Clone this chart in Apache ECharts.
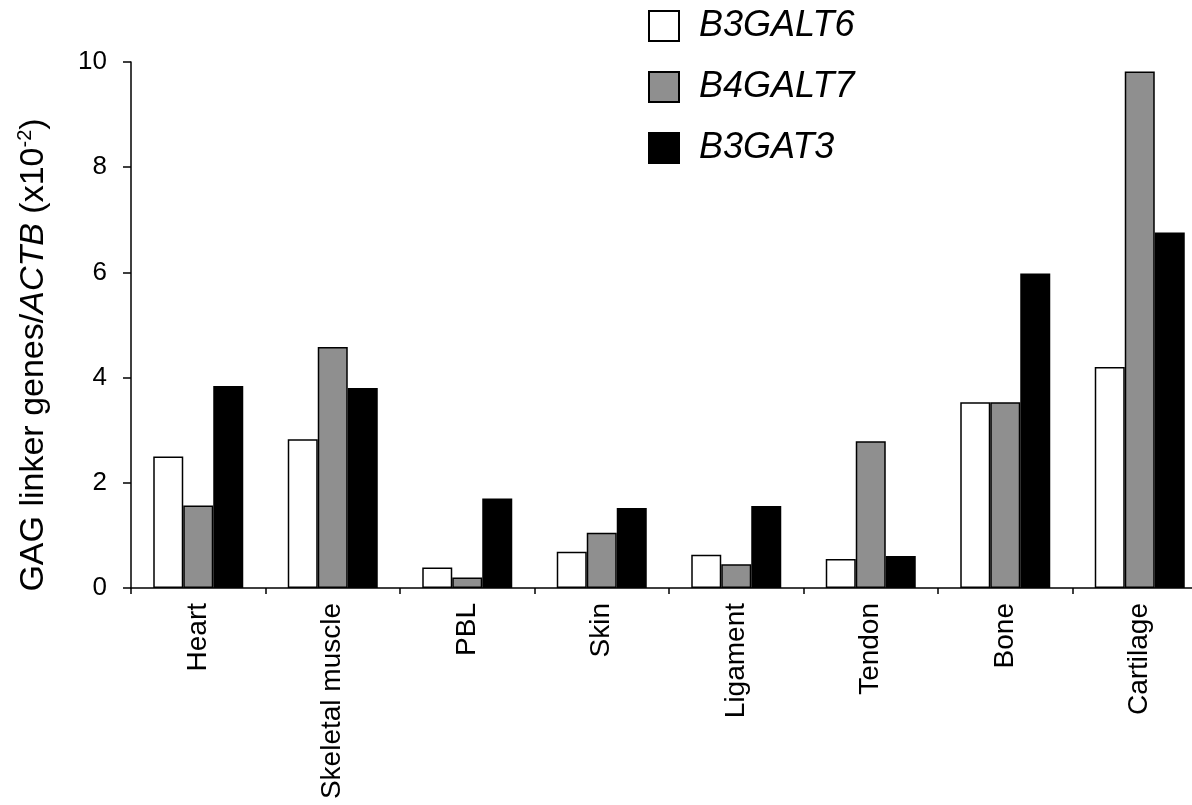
<!DOCTYPE html>
<html>
<head>
<meta charset="utf-8">
<script src="https://cdn.jsdelivr.net/npm/echarts@6/dist/echarts.min.js"></script>
<style>html,body{margin:0;padding:0;background:#fff;overflow:hidden}#c{width:1210px;height:805px}</style>
</head>
<body>
<div id="c"></div>
<script>
const categories = ['Heart','Skeletal muscle','PBL','Skin','Ligament','Tendon','Bone','Cartilage'];
const seriesNames = ['B3GALT6','B4GALT7','B3GAT3'];
const b3galt6 = [2.50, 2.83, 0.39, 0.69, 0.63, 0.55, 3.53, 4.20];
const b4galt7 = [1.57, 4.58, 0.20, 1.05, 0.45, 2.79, 3.53, 9.82];
const b3gat3  = [3.84, 3.80, 1.70, 1.52, 1.56, 0.61, 5.98, 6.76];
const yTicks = [0, 2, 4, 6, 8, 10];

const FONT = '"Liberation Sans", Arial, Helvetica, sans-serif';
const chart = echarts.init(document.getElementById('c'));
const fills = ['#ffffff', '#8f8f8f', '#000000'];
const dataSets = [b3galt6, b4galt7, b3gat3];

chart.setOption({
  animation: false,
  backgroundColor: '#fff',
  grid: { left: 131, top: 62, height: 526, width: 1076, containLabel: false },
  legend: {
    orient: 'vertical',
    left: 643, top: 3,
    itemWidth: 30, itemHeight: 30, itemGap: 25,
    icon: 'rect',
    textStyle: { fontFamily: FONT, fontSize: 36, fontStyle: 'italic', color: '#000', padding: [0, 0, 0, 15], lineHeight: 30, height: 30 },
    data: seriesNames
  },
  xAxis: {
    type: 'category',
    data: categories,
    axisLine: { lineStyle: { color: '#000', width: 1.5 } },
    axisTick: { show: true, length: 6, lineStyle: { color: '#000', width: 1.5 } },
    axisLabel: { rotate: 90, margin: 15, fontFamily: FONT, fontSize: 28, color: '#000' }
  },
  yAxis: {
    type: 'value',
    min: 0, max: 10, interval: 2,
    splitLine: { show: false },
    axisLine: { show: true, lineStyle: { color: '#000', width: 1.5 } },
    axisTick: { show: true, length: 8, lineStyle: { color: '#000', width: 1.5 } },
    axisLabel: { margin: 24, fontFamily: FONT, fontSize: 26, color: '#000',
      formatter: v => yTicks.includes(v) ? String(v) : '' },
    name: '{a|GAG linker genes/}{i|ACTB}{a| (x10}{s|-2}{a|)}',
    nameLocation: 'middle',
    nameGap: 80,
    nameRotate: 90,
    nameTextStyle: {
      padding: [0, 60, 0, 0],
      rich: {
        a: { fontFamily: FONT, fontSize: 34, color: '#000', lineHeight: 36, verticalAlign: 'bottom' },
        i: { fontFamily: FONT, fontSize: 34, fontStyle: 'italic', color: '#000', lineHeight: 36, verticalAlign: 'bottom' },
        s: { fontFamily: FONT, fontSize: 20, color: '#000', lineHeight: 36, verticalAlign: 'top' }
      }
    }
  },
  series: seriesNames.map((n, i) => ({
    name: n,
    type: 'bar',
    data: dataSets[i],
    barWidth: 30,
    barGap: '0%',
    itemStyle: { color: fills[i], borderColor: '#000', borderWidth: 1.5 }
  }))
});
</script>
</body>
</html>
